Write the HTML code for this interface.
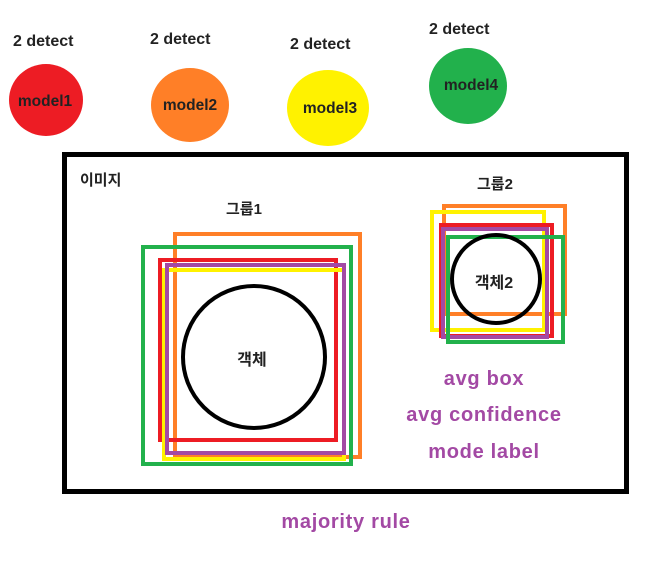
<!DOCTYPE html>
<html><head><meta charset="utf-8"><style>
body{margin:0;background:#fff}
svg{display:block}
text{font-family:"Liberation Sans","Noto Sans CJK KR",sans-serif;font-weight:bold;fill:#222}
.p{fill:#a349a4;letter-spacing:0.7px}
</style></head><body>
<svg width="671" height="567" viewBox="0 0 671 567">
<g>
<text x="13" y="46" font-size="16">2 detect</text>
<ellipse cx="46" cy="100" rx="37" ry="36" fill="#ed1c24"/>
<text x="45" y="106" font-size="15.5" text-anchor="middle">model1</text>
<text x="150" y="44" font-size="16">2 detect</text>
<ellipse cx="190" cy="105" rx="39" ry="37" fill="#ff7f27"/>
<text x="190" y="110" font-size="15.5" text-anchor="middle">model2</text>
<text x="290" y="49" font-size="16">2 detect</text>
<ellipse cx="328" cy="108" rx="41" ry="38" fill="#fff200"/>
<text x="330" y="113" font-size="15.5" text-anchor="middle">model3</text>
<text x="429" y="34" font-size="16">2 detect</text>
<ellipse cx="468" cy="86" rx="39" ry="38" fill="#22b14c"/>
<text x="471" y="90" font-size="15.5" text-anchor="middle">model4</text>
</g>
<rect x="64.5" y="154.5" width="562" height="337" fill="none" stroke="#000" stroke-width="5"/>
<text x="80" y="185" font-size="15" font-weight="normal">이미지</text>
<g>
<text x="226" y="214" font-size="15">그룹1</text>
<rect x="175" y="234" width="185" height="223" fill="none" stroke="#ff7f27" stroke-width="4"/>
<rect x="143" y="247" width="208" height="217" fill="none" stroke="#22b14c" stroke-width="4"/>
<rect x="160" y="260" width="176" height="180" fill="none" stroke="#ed1c24" stroke-width="4"/>
<rect x="164" y="270" width="180" height="189" fill="none" stroke="#fff200" stroke-width="4"/>
<rect x="167" y="265" width="177" height="188" fill="none" stroke="#a349a4" stroke-width="4"/>
<circle cx="254" cy="357" r="71" fill="none" stroke="#000" stroke-width="4"/>
<text x="252" y="365" font-size="16" text-anchor="middle">객체</text>
</g>
<g>
<text x="477" y="189" font-size="15">그룹2</text>
<rect x="444" y="206" width="121" height="108" fill="none" stroke="#ff7f27" stroke-width="4"/>
<rect x="432" y="212" width="112" height="118" fill="none" stroke="#fff200" stroke-width="4"/>
<rect x="441" y="225" width="111" height="111" fill="none" stroke="#ed1c24" stroke-width="4"/>
<rect x="443" y="229" width="104" height="108" fill="none" stroke="#a349a4" stroke-width="4"/>
<rect x="448" y="237" width="115" height="105" fill="none" stroke="#22b14c" stroke-width="4"/>
<circle cx="496" cy="279" r="44" fill="none" stroke="#000" stroke-width="4"/>
<text x="494" y="288" font-size="16" text-anchor="middle">객체2</text>
</g>
<g>
<text x="484" y="385" font-size="20" text-anchor="middle" class="p">avg box</text>
<text x="484" y="421" font-size="20" text-anchor="middle" class="p">avg confidence</text>
<text x="484" y="458" font-size="20" text-anchor="middle" class="p">mode label</text>
<text x="346" y="528" font-size="20" text-anchor="middle" class="p">majority rule</text>
</g>
</svg>
</body></html>
